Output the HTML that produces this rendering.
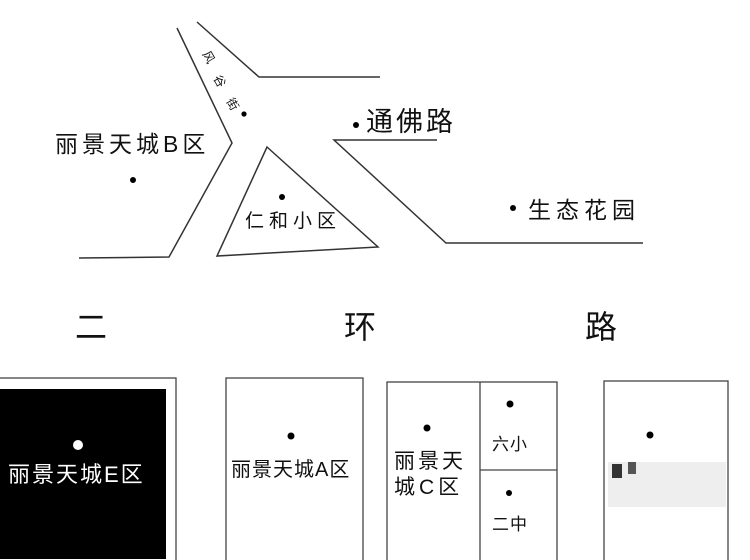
<!DOCTYPE html>
<html><head><meta charset="utf-8"><style>
html,body{margin:0;padding:0;background:#fff;}
svg{display:block;}
text{font-family:"Liberation Sans","Noto Sans CJK SC",sans-serif;fill:#111;}
</style></head><body>
<svg width="750" height="560" viewBox="0 0 750 560" xmlns="http://www.w3.org/2000/svg">
<g fill="none" stroke="#333" stroke-width="1.5">
<polyline points="177,28 232,143 169,257 79,258"/>
<polyline points="197,22 259,77 380,77"/>
<polygon points="267,147 378,247 217,256"/>
<polyline points="437,140 334,140 446,243 643,243"/>
</g>
<g font-size="23">
<text x="55" y="152" letter-spacing="4">丽景天城B区</text>
<text x="245" y="227" font-size="19" letter-spacing="5">仁和小区</text>
<text x="366" y="131" font-size="27" letter-spacing="3">通佛路</text>
<text x="528" y="218" letter-spacing="5">生态花园</text>
</g>
<g font-size="12">
<text x="202" y="54" transform="rotate(60 202 54)">风</text>
<text x="213" y="78" transform="rotate(60 213 78)">谷</text>
<text x="226" y="101" transform="rotate(60 226 101)">街</text>
</g>
<g fill="#000">
<circle cx="244" cy="114" r="2.6"/>
<circle cx="133" cy="180" r="3"/>
<circle cx="282" cy="197" r="3"/>
<circle cx="356" cy="125" r="3"/>
<circle cx="513" cy="208" r="3"/>
<circle cx="291" cy="436" r="3.5"/>
<circle cx="427" cy="428" r="3.5"/>
<circle cx="510" cy="404" r="3.5"/>
<circle cx="509" cy="493" r="3"/>
<circle cx="650" cy="435" r="3.5"/>
</g>
<g font-size="32">
<text x="75" y="338">二</text>
<text x="344" y="338">环</text>
<text x="585" y="338">路</text>
</g>
<g fill="none" stroke="#444" stroke-width="1.3">
<rect x="-2" y="378" width="178" height="190"/>
<rect x="226" y="378" width="137" height="190"/>
<rect x="387" y="382" width="170" height="190"/>
<line x1="480" y1="382" x2="480" y2="560"/>
<line x1="480" y1="470" x2="557" y2="470"/>
<rect x="604" y="381" width="124" height="190"/>
</g>
<rect x="0" y="389" width="166" height="170" fill="#000"/>
<circle cx="78" cy="445" r="5" fill="#fff"/>
<text x="8" y="482" font-size="22" letter-spacing="2" style="fill:#fff">丽景天城E区</text>
<text x="231" y="476" font-size="20" letter-spacing="1">丽景天城A区</text>
<text x="394" y="468" font-size="21" letter-spacing="3">丽景天</text>
<text x="394" y="494" font-size="21" letter-spacing="4">城C区</text>
<text x="492" y="450" font-size="17" letter-spacing="1">六小</text>
<text x="492" y="530" font-size="17" letter-spacing="1">二中</text>
<rect x="608" y="462" width="118" height="45" fill="#eee"/>
<rect x="612" y="464" width="10" height="14" fill="#333"/>
<rect x="628" y="462" width="8" height="12" fill="#555"/>
</svg>
</body></html>
